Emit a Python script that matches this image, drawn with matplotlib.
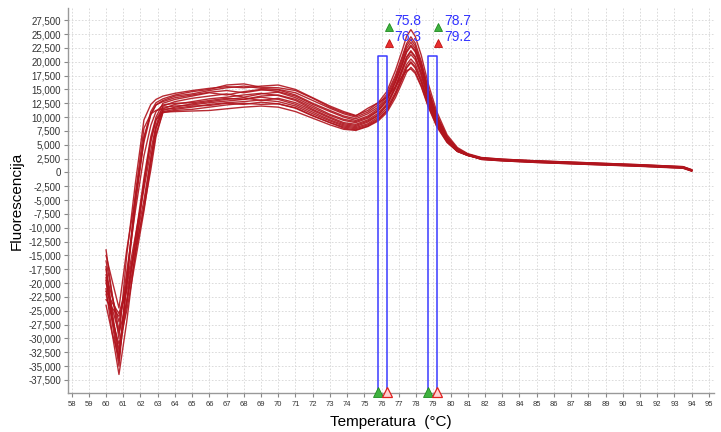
import matplotlib.pyplot as plt
import numpy as np
from matplotlib.ticker import FuncFormatter

plt.rcParams['font.family'] = ['Liberation Sans', 'DejaVu Sans']

# temperature points (deg C) shared by all melt curves
temps = [60.0, 60.35, 60.75, 61.2, 61.7, 62.2, 62.6, 62.9, 63.3, 64, 65, 66, 67, 68,
         69, 70, 71, 72, 73, 73.8, 74.5, 75.2, 75.8, 76.3, 76.8, 77.2, 77.45, 77.7,
         77.95, 78.3, 78.7, 79.2, 79.8, 80.4, 81.0, 81.8, 83, 85, 88, 91, 93.5, 94.0]

# fluorescence of each sample, in thousands
curves = [
    [-14, -22, -30, -15.0, -2.0, 9.5, 12.3, 13.2, 13.8, 14.3, 14.8, 15.2, 15.5, 15.3,
     15.6, 15.8, 15.0, 13.5, 12.0, 11.0, 10.3, 11.2, 12.6, 14.6, 18.4, 22.1, 24.6, 25.8,
     24.6, 21.2, 16.1, 11.0, 6.8, 4.5, 3.4, 2.7, 2.4, 2.1, 1.75, 1.4, 1.05, 0.5],
    [-15, -19.5, -24.5, -14.0, -4.5, 5.5, 10.5, 12.2, 13.0, 13.8, 14.2, 14.8, 15.3, 15.6,
     15.2, 15.0, 14.4, 13.0, 11.6, 10.6, 10.0, 10.9, 12.2, 14.1, 17.5, 21.0, 23.3, 24.5,
     23.4, 20.1, 15.3, 10.4, 6.5, 4.3, 3.3, 2.5, 2.25, 1.95, 1.6, 1.25, 0.9, 0.35],
    [-17, -25, -33, -24.0, -12.0, -1.0, 6.5, 10.0, 12.5, 13.2, 13.8, 14.4, 14.0, 14.6,
     15.0, 14.6, 13.8, 12.3, 11.0, 10.0, 9.4, 10.2, 11.5, 13.3, 16.7, 20.1, 22.4, 23.5,
     22.4, 19.3, 14.7, 10.0, 6.2, 4.1, 3.2, 2.35, 2.1, 1.8, 1.45, 1.1, 0.75, 0.25],
    [-18.5, -22.5, -27, -20.0, -11.5, -3.0, 4.0, 8.5, 12.0, 12.8, 13.4, 13.8, 14.2, 13.6,
     14.2, 14.5, 13.5, 12.0, 10.5, 9.6, 9.2, 10.0, 11.2, 13.0, 16.3, 19.5, 21.7, 22.8,
     21.8, 18.8, 14.3, 9.8, 6.2, 4.2, 3.3, 2.6, 2.35, 2.05, 1.7, 1.35, 1.0, 0.45],
    [-19, -27, -35, -20.0, -4.0, 8.0, 10.6, 11.2, 11.5, 12.3, 12.8, 13.3, 13.6, 14.0,
     14.3, 13.9, 13.0, 11.4, 10.0, 9.0, 8.7, 9.5, 10.7, 12.4, 15.6, 18.8, 20.9, 22.0,
     21.0, 18.1, 13.8, 9.5, 6.0, 4.1, 3.2, 2.5, 2.2, 1.95, 1.6, 1.25, 0.9, 0.35],
    [-20, -24.5, -29, -23.5, -15.0, -6.0, 2.5, 8.0, 11.2, 11.8, 12.4, 12.8, 13.2, 13.5,
     13.0, 13.4, 12.6, 11.2, 9.8, 8.8, 8.5, 9.3, 10.4, 12.1, 15.2, 18.2, 20.3, 21.3,
     20.4, 17.5, 13.4, 9.2, 5.8, 3.9, 3.1, 2.35, 2.1, 1.8, 1.45, 1.15, 0.8, 0.25],
    [-21, -29, -36.5, -27.0, -14.5, -2.0, 6.0, 9.5, 11.0, 11.4, 11.8, 12.3, 12.6, 12.8,
     13.1, 12.8, 12.0, 10.6, 9.3, 8.4, 8.1, 8.8, 10.0, 11.6, 14.5, 17.5, 19.5, 20.5,
     19.6, 16.9, 12.9, 9.0, 5.7, 3.9, 3.1, 2.5, 2.25, 1.95, 1.6, 1.25, 0.9, 0.35],
    [-22, -26.5, -31, -25.0, -16.0, -7.0, 1.5, 7.0, 10.8, 11.2, 11.4, 11.8, 12.2, 12.5,
     12.3, 12.4, 11.6, 10.2, 9.0, 8.2, 7.9, 8.6, 9.7, 11.2, 14.1, 16.9, 18.9, 19.8,
     18.9, 16.3, 12.5, 8.7, 5.6, 3.8, 3.05, 2.45, 2.2, 1.9, 1.55, 1.2, 0.9, 0.35],
    [-23, -24.5, -26, -21.5, -14.0, -6.5, 0.5, 6.5, 10.9, 11.0, 11.1, 11.2, 11.5, 11.8,
     12.0, 11.8, 11.0, 9.8, 8.6, 7.8, 7.6, 8.3, 9.3, 10.8, 13.5, 16.3, 18.1, 19.0,
     18.2, 15.7, 12.1, 8.4, 5.5, 3.8, 3.1, 2.55, 2.3, 2.0, 1.65, 1.3, 0.95, 0.4],
    [-24, -29, -33.5, -20.0, -6.0, 6.0, 11.0, 12.6, 13.3, 14.0, 14.6, 15.0, 15.8, 16.0,
     15.4, 15.3, 14.8, 13.4, 11.8, 10.8, 10.2, 11.6, 12.6, 13.6, 15.5, 17.4, 18.4, 18.7,
     17.9, 15.5, 11.9, 8.3, 5.4, 3.8, 3.1, 2.65, 2.4, 2.1, 1.75, 1.4, 1.05, 0.5],
    [-16, -22, -28.5, -18.0, -7.0, 3.0, 8.5, 11.0, 12.2, 12.5, 12.6, 13.0, 13.4, 13.2,
     13.8, 14.0, 13.2, 11.7, 10.3, 9.4, 9.0, 9.8, 11.1, 12.9, 16.3, 19.6, 21.9, 23.0,
     22.0, 18.9, 14.4, 9.9, 6.2, 4.1, 3.2, 2.4, 2.15, 1.85, 1.5, 1.15, 0.8, 0.3],
    [-19.5, -26, -32, -23.0, -12.5, -2.0, 5.5, 9.5, 11.8, 12.0, 12.2, 12.6, 12.9, 13.2,
     13.6, 13.2, 12.3, 10.9, 9.5, 8.6, 8.3, 9.1, 10.3, 12.1, 15.3, 18.6, 20.7, 21.8,
     20.8, 17.9, 13.7, 9.4, 5.9, 4.0, 3.1, 2.45, 2.2, 1.9, 1.55, 1.25, 0.9, 0.35],
    [-21.5, -23.5, -25.5, -20.5, -13.0, -5.0, 2.5, 8.0, 11.4, 11.6, 12.0, 12.1, 12.5, 12.3,
     12.7, 12.4, 11.7, 10.3, 9.0, 8.0, 7.7, 8.4, 9.5, 11.1, 14.1, 17.0, 19.0, 20.0,
     19.1, 16.5, 12.7, 8.8, 5.7, 3.9, 3.1, 2.5, 2.25, 1.95, 1.6, 1.25, 0.9, 0.35],
    [-17.5, -26, -34, -19.0, -5.0, 6.5, 10.5, 12.2, 12.8, 13.5, 14.0, 14.5, 14.8, 14.4,
     14.9, 14.9, 14.0, 12.5, 11.2, 10.2, 9.7, 10.6, 11.8, 13.7, 17.1, 20.6, 22.9, 24.0,
     22.9, 19.7, 15.0, 10.3, 6.4, 4.3, 3.3, 2.6, 2.3, 2.0, 1.65, 1.3, 0.95, 0.4],
]

# melt regions (start, end) and their labels
regions = [(75.8, 76.3), (78.7, 79.2)]
region_labels = [("75.8", "76.3"), ("78.7", "79.2")]
region_top = 21000

fig = plt.figure(figsize=(7.21, 4.32), dpi=100)
ax = fig.add_axes([0.0943, 0.0903, 0.896, 0.891])

for c in curves:
    ax.plot(temps, np.array(c) * 1000, color='#b0141d', lw=1.0, alpha=0.9)

ybot, ytop = -39850, 29700
ax.set_xlim(57.79, 95.3)
ax.set_ylim(ybot, ytop)

# blue region boxes with their markers
for (a, b), (la, lb) in zip(regions, region_labels):
    ax.plot([a, a, b, b], [ybot, region_top, region_top, ybot], color='#3a3aff', lw=1.1)
    ax.plot(b + 0.1, 26200, marker='^', ms=6, mfc='#3fb23f', mec='#1f8a1f', mew=0.6)
    ax.plot(b + 0.1, 23300, marker='^', ms=6, mfc='#e83030', mec='#c01010', mew=0.6)
    ax.text(b + 0.42, 27400, la, color='#3333ff', fontsize=10, va='center')
    ax.text(b + 0.42, 24500, lb, color='#3333ff', fontsize=10, va='center')
    ax.plot(a, ybot + 250, marker='^', ms=7, mfc='#3fb23f', mec='#1f8a1f', mew=0.6, clip_on=False, zorder=5)
    ax.plot(b, ybot + 250, marker='^', ms=7, mfc='#ffd0d0', mec='#e02020', mew=0.9, clip_on=False, zorder=5)

ax.set_xticks(range(58, 96))
ax.set_yticks(range(-37500, 27501, 2500))
ax.yaxis.set_major_formatter(FuncFormatter(lambda v, p: f"{int(v):,}"))
ax.tick_params(axis='x', labelsize=5.5, length=3, colors='#888888', labelcolor='#333333', pad=3)
ax.tick_params(axis='y', labelsize=7, length=3, colors='#888888', labelcolor='#333333', pad=2)

ax.grid(True, color='#d6d6d6', linestyle=(0, (2, 2)), lw=0.6)
ax.set_axisbelow(True)
for s in ['top', 'right']:
    ax.spines[s].set_visible(False)
for s in ['left', 'bottom']:
    ax.spines[s].set_color('#999999')
    ax.spines[s].set_linewidth(1.0)

ax.set_ylabel('Fluorescencija', fontsize=11, labelpad=3)
ax.set_xlabel('Temperatura  (°C)', fontsize=11, labelpad=5)

plt.savefig('out.png', dpi=100)
